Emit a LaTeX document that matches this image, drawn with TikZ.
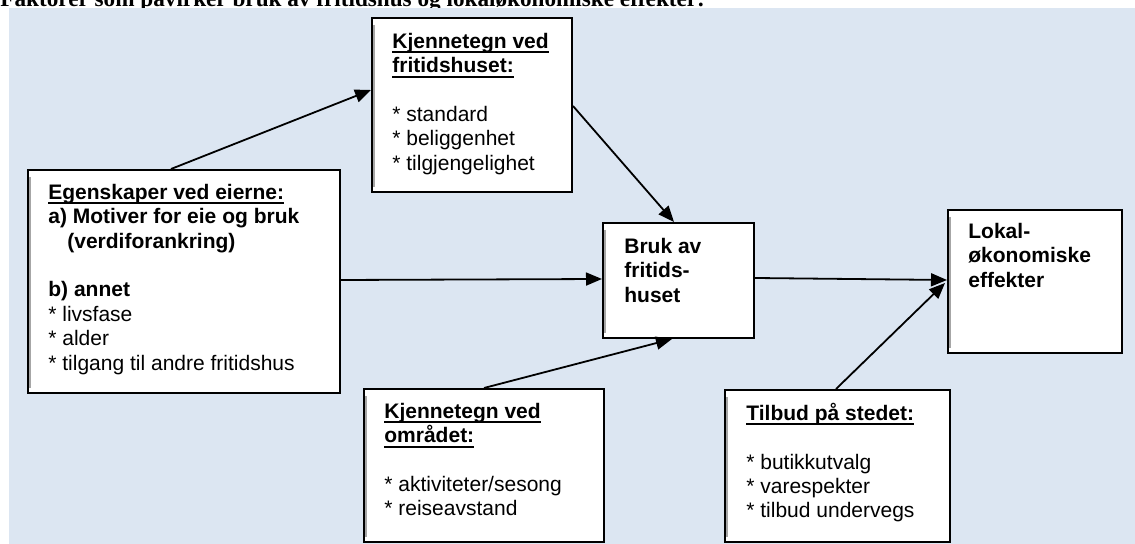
\documentclass[tikz,border=0pt]{standalone}
\usepackage{fontspec}
\setmainfont{Liberation Sans}
\newfontfamily\timesf{Liberation Serif}
\usetikzlibrary{arrows.meta,calc,fit}
\definecolor{bgblue}{RGB}{220,230,242}
\newcommand\myul[1]{\setbox0=\hbox{#1}\rlap{\rule[-2.4pt]{\wd0}{0.95pt}}\box0}
\newcommand\topstrut{\rule{0pt}{10pt}}
\tikzset{
  boxnode/.style={draw=black, line width=1pt, fill=white, inner sep=0pt},
  txtnode/.style={anchor=north west, inner sep=0pt, align=left, font=\fontsize{10.5}{12.2}\selectfont},
  arr/.style={draw=black, line width=0.9pt, -{Triangle[length=8pt,width=6.5pt]}},
  shadeline/.style={draw=gray!70, line width=0.8pt}
}
\begin{document}
\begin{tikzpicture}[x=0.5pt,y=-0.5pt]
\useasboundingbox (0,0) rectangle (1135,544);
\node[anchor=base west, inner sep=0pt, font=\timesf\bfseries\fontsize{11.6}{14}\selectfont] (title) at (0,7) {Faktorer som påvirker bruk av fritidshus og lokaløkonomiske effekter:};
\fill[bgblue] (9,8) rectangle (1135,544);

% boxes
\node[boxnode, fit={(28,170) (340,393)}] (b1) {};
\node[boxnode, fit={(372,18) (572,192)}] (b2) {};
\node[boxnode, fit={(603,223) (754,338)}] (b3) {};
\node[boxnode, fit={(948,210) (1122,353)}] (b4) {};
\node[boxnode, fit={(364,389) (604,542)}] (b5) {};
\node[boxnode, fit={(725,390) (950,542)}] (b6) {};

\foreach \b in {b1,b2,b3,b4,b5,b6}{
  \draw[shadeline] ($(\b.north west)+(3,8)$) -- ($(\b.south west)+(3,-6)$);
}

% texts
\node[txtnode] (t1) at (48,179) {\topstrut\bfseries\myul{Egenskaper ved eierne:}\\
\bfseries a) Motiver for eie og bruk\\
\bfseries\hspace*{9.5pt}(verdiforankring)\\[12.2pt]
\bfseries b) annet\\
* livsfase\\
* alder\\
* tilgang til andre fritidshus};

\node[txtnode] (t2) at (392,28) {\topstrut\bfseries\myul{Kjennetegn ved}\\
\bfseries\myul{fritidshuset:}\\[12.2pt]
* standard\\
* beliggenhet\\
* tilgjengelighet};

\node[txtnode] (t3) at (624,233) {\topstrut\bfseries Bruk av\\
\bfseries fritids-\\
\bfseries huset};

\node[txtnode] (t4) at (968,218) {\topstrut\bfseries Lokal-\\
\bfseries økonomiske\\
\bfseries effekter};

\node[txtnode] (t5) at (384,398) {\topstrut\bfseries\myul{Kjennetegn ved}\\
\bfseries\myul{området:}\\[12.2pt]
* aktiviteter/sesong\\
* reiseavstand};

\node[txtnode] (t6) at (746,400) {\topstrut\bfseries\myul{Tilbud på stedet:}\\[12.2pt]
* butikkutvalg\\
* varespekter\\
* tilbud undervegs};

% connectors
\coordinate (a1s) at ($(b1.north west)+(144,0)$);
\coordinate (a1e) at ($(b2.north west)+(0,73)$);
\coordinate (a2s) at ($(b2.north east)+(0,89)$);
\coordinate (a2e) at ($(b3.north west)+(72,0)$);
\coordinate (a3s) at ($(b1.north east)+(0,111)$);
\coordinate (a3e) at ($(b3.north west)+(0,57)$);
\coordinate (a4s) at ($(b3.north east)+(0,56)$);
\coordinate (a4e) at ($(b4.north west)+(0,71)$);
\coordinate (a5s) at ($(b5.north west)+(121,0)$);
\coordinate (a5e) at ($(b3.south west)+(70,0)$);
\coordinate (a6s) at ($(b6.north west)+(112,0)$);
\coordinate (a6e) at ($(b4.north west)+(-2,74)$);

\draw[arr] (a1s) -- (a1e);
\draw[arr] (a2s) -- (a2e);
\draw[arr] (a3s) -- (a3e);
\draw[arr] (a4s) -- (a4e);
\draw[arr] (a5s) -- (a5e);
\draw[arr] (a6s) -- (a6e);
\end{tikzpicture}
\end{document}
